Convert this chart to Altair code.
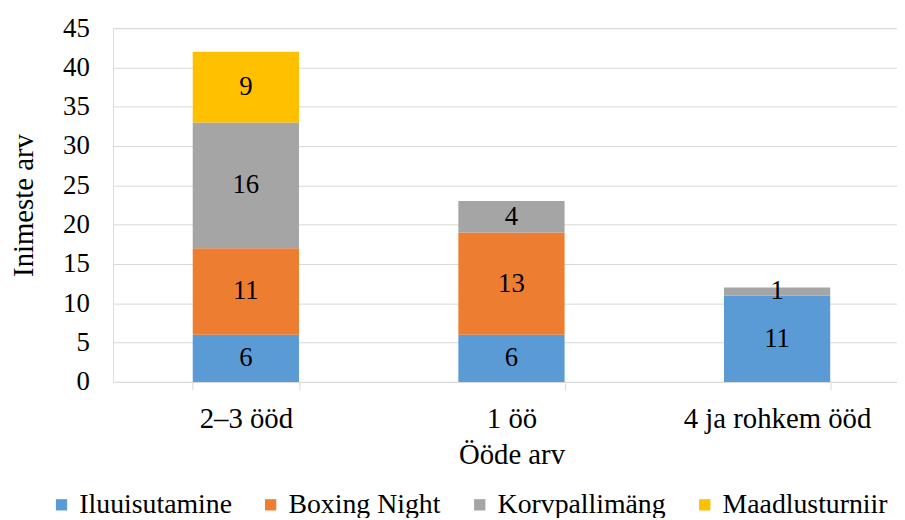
import altair as alt
import pandas as pd

categories = ["2–3 ööd", "1 öö", "4 ja rohkem ööd"]
series = ["Iluuisutamine", "Boxing Night", "Korvpallimäng", "Maadlusturniir"]
colors = ["#5B9BD5", "#ED7D31", "#A5A5A5", "#FFC000"]
values = {
    "Iluuisutamine": [6, 6, 11],
    "Boxing Night": [11, 13, 0],
    "Korvpallimäng": [16, 4, 1],
    "Maadlusturniir": [9, 0, 0],
}

rows = []
for si, s in enumerate(series):
    for ci, c in enumerate(categories):
        v = values[s][ci]
        if v > 0:
            rows.append({"cat": c, "series": s, "order": si, "value": v})
df = pd.DataFrame(rows)

FONT = "'Times New Roman', 'Liberation Serif', serif"
FS = 27
FSX = 29

base = alt.Chart(df).transform_stack(
    stack="value", groupby=["cat"], as_=["y0", "y1"], sort=[alt.SortField("order")]
).transform_calculate(mid="(datum.y0 + datum.y1) / 2")

xscale = alt.Scale(range=[0, 804], paddingInner=0.6, paddingOuter=0.3)
yscale = alt.Scale(domain=[0, 45], nice=False)

xaxis = alt.Axis(
    labelAngle=0, labelFont=FONT, labelFontSize=FSX, labelColor="#000", labelLimit=400,
    titleFont=FONT, titleFontSize=FSX, titleFontWeight="normal", titleColor="#000",
    domainColor="#d9d9d9", tickColor="#d9d9d9", tickSize=8, tickBand="extent",
    labelPadding=15, titlePadding=7, grid=False,
)
yaxis = alt.Axis(
    values=list(range(0, 50, 5)), labelFont=FONT, labelFontSize=FS, labelColor="#000",
    titleFont=FONT, titleFontSize=FSX, titleFontWeight="normal", titleColor="#000",
    domain=False, ticks=False, labelPadding=24, titlePadding=24,
    labelOverlap=False, labelFlush=False,
    gridColor="#d9d9d9", gridWidth=1,
)

bars = base.mark_bar().encode(
    x=alt.X("cat:N", sort=categories, title="Ööde arv", scale=xscale, axis=xaxis),
    y=alt.Y("y0:Q", title="Inimeste arv", scale=yscale, axis=yaxis),
    y2="y1:Q",
    color=alt.Color(
        "series:N",
        scale=alt.Scale(domain=series, range=colors),
        legend=alt.Legend(
            title=None, orient="none", direction="horizontal", legendX=-66, legendY=467,
            symbolType="square", symbolSize=130, symbolStrokeWidth=0,
            labelFont=FONT, labelFontSize=28, labelColor="#000",
            columnPadding=25, labelOffset=4, labelLimit=300,
        ),
    ),
    order=alt.Order("order:Q"),
)

labels = base.mark_text(font=FONT, fontSize=FS, color="#000").encode(
    x=alt.X("cat:N", sort=categories, title="Ööde arv", scale=xscale, axis=xaxis),
    y=alt.Y("mid:Q", title="Inimeste arv", scale=yscale, axis=yaxis),
    text=alt.Text("value:Q"),
)

chart = alt.layer(bars, labels).properties(
    width=791, height=357,
    autosize=alt.AutoSizeParams(type="none"),
    padding={"left": 106, "top": 18, "right": 0, "bottom": 135},
).configure_view(stroke=None).configure(background="white")

chart.save("out.html", embed_options={"renderer": "svg", "actions": False})
